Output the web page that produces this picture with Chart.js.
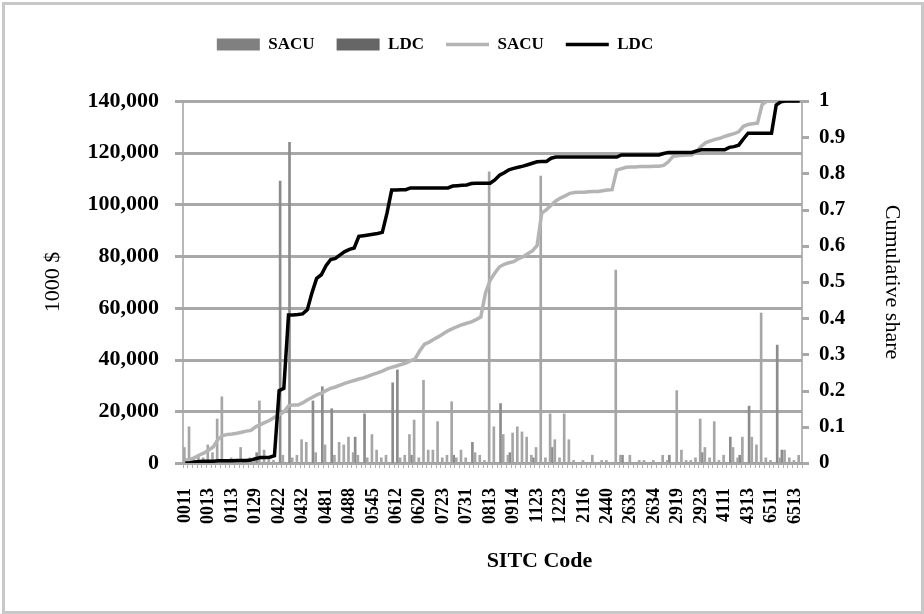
<!DOCTYPE html>
<html>
<head>
<meta charset="utf-8">
<script src="https://cdn.jsdelivr.net/npm/chart.js@4.4.0/dist/chart.umd.min.js"></script>
<style>
  body { margin: 0; background: #fff; }
  #frame { position: absolute; left: 2px; top: 2px; width: 916px; height: 606px; border: 3px solid #c8c8c8; }
  #wrap { position: absolute; left: 0; top: 0; width: 924px; height: 614px; }
</style>
</head>
<body>
<div id="frame"></div>
<div id="wrap"><canvas id="sitcChart" width="924" height="614"></canvas></div>
<script>
// tick labels shown on the x axis (every 5th SITC code)
const sitcLabels = ['0011', '0013', '0113', '0129', '0422', '0432', '0481', '0488', '0545', '0612', '0620', '0723', '0731',
    '0813', '0914', '1123', '1223', '2116', '2440', '2633', '2634', '2919', '2923', '4111', '4313', '6511', '6513'];
const categoryCount = 132;

// exports, 1000 $
const sacuBars = [
    6000, 14000, 2000, 3000, 2000, 7000, 4000, 17000, 25600, 1000,
    2000, 1000, 6000, 1000, 2000, 2000, 24000, 5000, 2000, 1000,
    0, 3000, 0, 2000, 3000, 9000, 8000, 0, 4000, 0,
    7000, 0, 3000, 8000, 7000, 10000, 4000, 3000, 0, 2000,
    11000, 5000, 2000, 3000, 0, 0, 2000, 3000, 11000, 16600,
    2000, 32000, 5000, 5000, 16000, 2000, 3000, 23700, 2000, 5000,
    2000, 0, 4000, 3000, 1000, 112600, 14000, 0, 11000, 3000,
    11600, 14000, 12000, 10000, 3000, 6000, 111000, 2000, 19000, 9000,
    2000, 19000, 9000, 1000, 0, 1000, 0, 3000, 0, 1000,
    1000, 0, 74600, 3000, 0, 3000, 0, 1000, 1000, 0,
    1000, 0, 3000, 1000, 0, 28000, 5000, 1000, 1000, 2000,
    17000, 6000, 2000, 16000, 1000, 3000, 0, 6000, 2000, 10000,
    0, 10000, 7000, 58000, 2000, 1000, 0, 2000, 5000, 2000,
    1000, 3000
];
const ldcBars = [
    0, 0, 0, 1000, 0, 0, 0, 0, 0, 0,
    0, 0, 0, 0, 0, 4000, 0, 0, 0, 0,
    109000, 0, 124000, 0, 0, 0, 0, 24000, 0, 29500,
    0, 21000, 0, 0, 0, 0, 10000, 0, 19000, 0,
    0, 0, 0, 0, 31000, 36000, 0, 0, 3000, 0,
    0, 0, 0, 0, 0, 0, 0, 3000, 0, 0,
    0, 8000, 0, 0, 0, 0, 0, 23000, 0, 4000,
    0, 0, 0, 0, 2000, 0, 0, 0, 6000, 0,
    0, 0, 0, 0, 0, 0, 0, 0, 0, 0,
    0, 0, 0, 3000, 0, 0, 0, 0, 0, 0,
    0, 0, 0, 3000, 0, 0, 0, 0, 0, 0,
    4000, 0, 0, 0, 0, 0, 10000, 0, 3000, 0,
    22000, 0, 0, 0, 0, 0, 45600, 5000, 0, 0,
    0, 0
];

// cumulative share
const sacuShare = [
    0.008, 0.010, 0.015, 0.022, 0.028, 0.036, 0.045, 0.066, 0.076, 0.079,
    0.080, 0.082, 0.085, 0.088, 0.090, 0.100, 0.106, 0.112, 0.118, 0.126,
    0.133, 0.141, 0.158, 0.160, 0.160, 0.166, 0.174, 0.181, 0.188, 0.193,
    0.200, 0.206, 0.210, 0.215, 0.220, 0.224, 0.228, 0.232, 0.235, 0.240,
    0.245, 0.249, 0.254, 0.260, 0.264, 0.268, 0.272, 0.276, 0.282, 0.288,
    0.310, 0.328, 0.334, 0.342, 0.349, 0.357, 0.365, 0.371, 0.377, 0.382,
    0.386, 0.390, 0.396, 0.403, 0.470, 0.505, 0.525, 0.542, 0.549, 0.553,
    0.556, 0.564, 0.570, 0.578, 0.586, 0.600, 0.690, 0.700, 0.712, 0.724,
    0.732, 0.738, 0.745, 0.747, 0.748, 0.748, 0.749, 0.750, 0.750, 0.752,
    0.754, 0.755, 0.809, 0.813, 0.817, 0.818, 0.818, 0.819, 0.819, 0.819,
    0.820, 0.820, 0.822, 0.832, 0.847, 0.849, 0.850, 0.851, 0.851, 0.860,
    0.875, 0.885, 0.890, 0.894, 0.897, 0.902, 0.906, 0.910, 0.915, 0.930,
    0.935, 0.937, 0.939, 0.990, 1.000, 1.000, 1.000, 1.000, 1.000, 1.000,
    1.000, 1.000
];
const ldcShare = [
    0.000, 0.001, 0.003, 0.004, 0.005, 0.005, 0.005, 0.006, 0.006, 0.006,
    0.006, 0.007, 0.007, 0.007, 0.008, 0.012, 0.015, 0.015, 0.016, 0.020,
    0.200, 0.206, 0.409, 0.409, 0.410, 0.412, 0.423, 0.470, 0.510, 0.520,
    0.545, 0.562, 0.565, 0.575, 0.584, 0.590, 0.594, 0.626, 0.628, 0.630,
    0.632, 0.634, 0.637, 0.690, 0.754, 0.754, 0.755, 0.755, 0.760, 0.760,
    0.760, 0.760, 0.760, 0.760, 0.760, 0.760, 0.760, 0.765, 0.766, 0.767,
    0.768, 0.772, 0.773, 0.773, 0.773, 0.773, 0.782, 0.795, 0.802, 0.810,
    0.814, 0.817, 0.820, 0.824, 0.828, 0.832, 0.833, 0.833, 0.842, 0.845,
    0.845, 0.845, 0.845, 0.845, 0.845, 0.845, 0.845, 0.845, 0.845, 0.845,
    0.845, 0.845, 0.845, 0.851, 0.851, 0.851, 0.851, 0.851, 0.851, 0.851,
    0.851, 0.851, 0.855, 0.858, 0.858, 0.858, 0.858, 0.858, 0.858, 0.862,
    0.865, 0.865, 0.865, 0.865, 0.865, 0.865, 0.872, 0.874, 0.878, 0.895,
    0.911, 0.911, 0.911, 0.911, 0.911, 0.911, 0.989, 0.998, 1.000, 1.000,
    1.000, 1.000
];

// only every 5th code gets a label
const categories = Array.from({ length: categoryCount }, (_, i) => i % 5 === 0 ? sitcLabels[i / 5] : '');

const serif = '"Liberation Serif", "Times New Roman", serif';
const gridGray = '#a8a8a8';

// push chart area down below the legend
const legendSpacer = {
    id: 'legendSpacer',
    beforeInit(chart) {
        const fit = chart.legend.fit;
        chart.legend.fit = function () {
            fit.bind(chart.legend)();
            this.height = 87;
        };
    },
    afterLayout(chart) {
        // legend sits a bit left of centre in the original
        chart.legend.left -= 27;
        chart.legend.right -= 27;
    }
};

// horizontal grid and the small tick marks on both value axes
function drawValueGrid(chart) {
    const { ctx, chartArea, scales } = chart;
    ctx.save();
    ctx.setLineDash([]);
    ctx.globalAlpha = 1;
    ctx.globalCompositeOperation = 'source-over';
    ctx.strokeStyle = gridGray;
    ctx.lineWidth = 3;
    scales.y.ticks.forEach(tick => {
        const py = Math.round(scales.y.getPixelForValue(tick.value)) + 0.5;
        ctx.beginPath();
        ctx.moveTo(chartArea.left - 8, py);
        ctx.lineTo(chartArea.right, py);
        ctx.stroke();
    });
    scales.y1.ticks.forEach(tick => {
        const py = Math.round(scales.y1.getPixelForValue(tick.value)) + 0.5;
        ctx.beginPath();
        ctx.moveTo(chartArea.right, py);
        ctx.lineTo(chartArea.right + 7, py);
        ctx.stroke();
    });
    ctx.restore();
}

const valueGrid = {
    id: 'valueGrid',
    beforeDatasetsDraw(chart) {
        drawValueGrid(chart);
    }
};

// x axis title drawn off-centre like the original
const xTitle = {
    id: 'xTitle',
    afterDraw(chart) {
        const { ctx, chartArea } = chart;
        ctx.save();
        ctx.font = 'bold 22px ' + serif;
        ctx.fillStyle = '#000';
        ctx.textAlign = 'center';
        ctx.textBaseline = 'middle';
        ctx.fillText('SITC Code', (chartArea.left + chartArea.right) / 2 + 47, chart.height - 53);
        ctx.restore();
    }
};

const legendFill = ['#808080', '#666666'];

const config = {
    type: 'bar',
    data: {
        labels: categories,
        datasets: [
            { label: 'SACU', data: sacuBars, backgroundColor: '#a6a6a6', barThickness: 2, yAxisID: 'y', order: 2 },
            { label: 'LDC', data: ldcBars, backgroundColor: '#8c8c8c', barThickness: 2, yAxisID: 'y', order: 2 },
            { type: 'line', label: 'SACU', data: sacuShare, borderColor: '#b4b4b4', backgroundColor: '#b4b4b4',
              borderWidth: 3.5, pointRadius: 0, tension: 0, fill: false, yAxisID: 'y1', order: 1 },
            { type: 'line', label: 'LDC', data: ldcShare, borderColor: '#000000', backgroundColor: '#000000',
              borderWidth: 3.5, pointRadius: 0, tension: 0, fill: false, yAxisID: 'y1', order: 0 }
        ]
    },
    options: {
        responsive: false,
        animation: false,
        layout: { padding: { top: 14, left: 0, right: 0, bottom: 0 } },
        plugins: {
            tooltip: { enabled: false },
            legend: {
                position: 'top',
                labels: {
                    usePointStyle: true,
                    pointStyleWidth: 43,
                    boxHeight: 12,
                    padding: 22,
                    color: '#000',
                    font: { family: serif, size: 17, weight: 'bold' },
                    generateLabels(chart) {
                        return chart.data.datasets.map((ds, i) => {
                            const isLine = ds.type === 'line';
                            return {
                                text: ds.label,
                                datasetIndex: i,
                                fillStyle: isLine ? ds.borderColor : legendFill[i],
                                strokeStyle: isLine ? ds.borderColor : legendFill[i],
                                lineWidth: isLine ? 3.5 : 0,
                                pointStyle: isLine ? 'line' : 'rect',
                                hidden: false
                            };
                        });
                    }
                }
            }
        },
        scales: {
            x: {
                offset: true,
                grid: { display: true, drawOnChartArea: false, drawTicks: true, tickLength: 5, color: '#b0b0b0', lineWidth: 1 },
                border: { display: true, color: '#b8b8b8', width: 2 },
                ticks: {
                    autoSkip: false,
                    minRotation: 90,
                    maxRotation: 90,
                    padding: 20,
                    color: '#000',
                    font: { family: serif, size: 18, weight: 'bold' },
                    callback: (value, index) => categories[index]
                },
                afterFit: (scale) => { scale.height = 151; }
            },
            y: {
                type: 'linear',
                position: 'left',
                min: 0,
                max: 140000,
                ticks: {
                    stepSize: 20000,
                    padding: 16,
                    color: '#000',
                    font: { family: serif, size: 22, weight: 'bold' },
                    callback: (value) => value.toLocaleString('en-US')
                },
                grid: { display: false, tickLength: 8 },
                border: { display: true, color: '#b8b8b8', width: 2 },
                title: {
                    display: true,
                    text: '1000 $',
                    color: '#000',
                    font: { family: serif, size: 22 },
                    padding: { top: 40, bottom: 0 }
                },
                afterFit: (scale) => { scale.width = 183; }
            },
            y1: {
                type: 'linear',
                position: 'right',
                min: 0,
                max: 1,
                ticks: {
                    stepSize: 0.1,
                    padding: 10,
                    color: '#000',
                    font: { family: serif, size: 21, weight: 'bold' },
                    callback: (value) => Math.round(value * 10) / 10
                },
                grid: { display: false, tickLength: 7 },
                border: { display: true, color: '#b8b8b8', width: 2 },
                title: {
                    display: true,
                    text: 'Cumulative share',
                    color: '#000',
                    font: { family: serif, size: 22 },
                    padding: { top: 19, bottom: 0 }
                },
                afterFit: (scale) => { scale.width = 122; }
            }
        }
    },
    plugins: [legendSpacer, valueGrid, xTitle]
};

try {
    const sitcChart = new Chart(document.getElementById('sitcChart'), config);
}
catch (e) {
    document.body.insertAdjacentText('beforeend', 'Error draw graph: ' + e.message);
}
</script>
</body>
</html>
